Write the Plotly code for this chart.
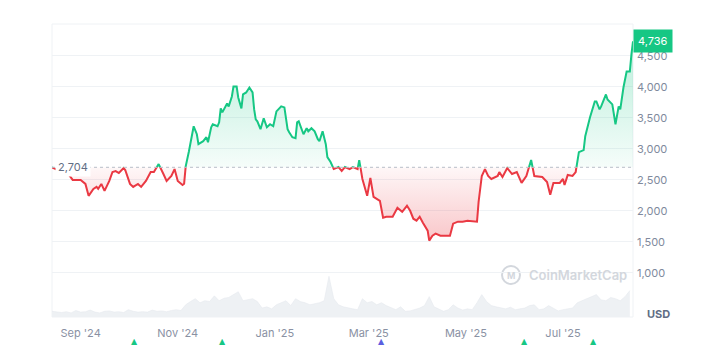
import pandas as pd
import plotly.graph_objects as go

# ---------------- data ----------------
price_dates = [
    # Aug 2024
    "2024-08-14", "2024-08-19", "2024-08-23", "2024-08-27",
    # Sep
    "2024-09-01", "2024-09-04", "2024-09-06", "2024-09-09", "2024-09-11", "2024-09-12", "2024-09-14",
    "2024-09-16", "2024-09-19", "2024-09-21", "2024-09-23", "2024-09-25", "2024-09-28", "2024-09-29",
    # Oct
    "2024-10-02", "2024-10-04", "2024-10-07", "2024-10-09", "2024-10-12", "2024-10-15", "2024-10-17",
    "2024-10-20", "2024-10-23", "2024-10-25", "2024-10-28", "2024-10-30",
    # Nov
    "2024-11-01", "2024-11-04", "2024-11-05", "2024-11-06", "2024-11-08", "2024-11-09", "2024-11-11",
    "2024-11-13", "2024-11-14", "2024-11-17", "2024-11-19", "2024-11-20", "2024-11-22", "2024-11-23",
    "2024-11-26", "2024-11-27", "2024-11-28", "2024-11-29",
    # Dec
    "2024-12-01", "2024-12-02", "2024-12-03", "2024-12-05", "2024-12-06", "2024-12-08", "2024-12-09",
    "2024-12-11", "2024-12-12", "2024-12-14", "2024-12-16", "2024-12-18", "2024-12-19", "2024-12-20",
    "2024-12-21", "2024-12-23", "2024-12-25", "2024-12-27", "2024-12-29", "2024-12-31",
    # Jan 2025
    "2025-01-02", "2025-01-05", "2025-01-07", "2025-01-09", "2025-01-10", "2025-01-12", "2025-01-14",
    "2025-01-15", "2025-01-16", "2025-01-18", "2025-01-19", "2025-01-21", "2025-01-22", "2025-01-24",
    "2025-01-26", "2025-01-28", "2025-01-29", "2025-01-31",
    # Feb
    "2025-02-02", "2025-02-03", "2025-02-05", "2025-02-07", "2025-02-10", "2025-02-12", "2025-02-14",
    "2025-02-17", "2025-02-19", "2025-02-22", "2025-02-23", "2025-02-25", "2025-02-27", "2025-02-28",
    # Mar
    "2025-03-02", "2025-03-04", "2025-03-06", "2025-03-08", "2025-03-10", "2025-03-12", "2025-03-16",
    "2025-03-19", "2025-03-22", "2025-03-25", "2025-03-27", "2025-03-29", "2025-03-31",
    # Apr
    "2025-04-02", "2025-04-04", "2025-04-07", "2025-04-08", "2025-04-10", "2025-04-12", "2025-04-15",
    "2025-04-18", "2025-04-21", "2025-04-23", "2025-04-26", "2025-04-29",
    # May
    "2025-05-02", "2025-05-08", "2025-05-09", "2025-05-11", "2025-05-13", "2025-05-15", "2025-05-17",
    "2025-05-21", "2025-05-22", "2025-05-24", "2025-05-27", "2025-05-30",
    # Jun
    "2025-06-02", "2025-06-05", "2025-06-08", "2025-06-11", "2025-06-13", "2025-06-18", "2025-06-21",
    "2025-06-23", "2025-06-25", "2025-06-29",
    # Jul
    "2025-07-01", "2025-07-02", "2025-07-04", "2025-07-07", "2025-07-09", "2025-07-10", "2025-07-11",
    "2025-07-14", "2025-07-15", "2025-07-18", "2025-07-21", "2025-07-22", "2025-07-24", "2025-07-25",
    "2025-07-28", "2025-07-29",
    # Aug
    "2025-08-01", "2025-08-03", "2025-08-05", "2025-08-06", "2025-08-08", "2025-08-10", "2025-08-12",
    "2025-08-13", "2025-08-14",
]

price_usd = [
    2704, 2644, 2640, 2500,
    2500, 2436, 2244, 2356, 2388, 2356, 2436, 2324, 2484, 2628, 2644, 2612, 2692, 2660,
    2436, 2388, 2436, 2388, 2484, 2628, 2628, 2756, 2596, 2484, 2564, 2676,
    2484, 2420, 2440, 2720, 2960, 3077, 3366, 3237, 3077, 3125, 3189, 3109, 3350, 3398,
    3366, 3430, 3654, 3590,
    3686, 3734, 3686, 3847, 4007, 4007, 3830, 3654, 3879, 3911, 3991, 3911, 3638, 3478,
    3446, 3318, 3494, 3350, 3398, 3366,
    3606, 3686, 3670, 3318, 3269, 3189, 3173, 3430, 3446, 3318, 3237, 3334, 3285, 3334,
    3285, 3157, 3125, 3285,
    3077, 2869, 2789, 2676, 2708, 2644, 2708, 2676, 2708, 2676, 2821, 2516, 2324, 2244,
    2532, 2228, 2195, 2163, 1891, 1907, 1907, 2051, 1987, 2083, 2003, 1875, 1843,
    1907, 1811, 1682, 1522, 1602, 1634, 1602, 1602, 1602, 1795, 1827, 1827,
    1843, 1827, 2147, 2564, 2676, 2564, 2516, 2564, 2628, 2548, 2692, 2596,
    2628, 2452, 2564, 2821, 2564, 2548, 2468, 2260, 2452, 2452,
    2516, 2420, 2580, 2564, 2628, 2805, 2949, 2981, 3205, 3510, 3766, 3766, 3638, 3686,
    3879, 3798,
    3718, 3398, 3686, 3638, 3991, 4247, 4247, 4520, 4736,
]

baseline_price = 2704
last_price = price_usd[-1]

# daily volume (billions USD), one reading every 3 days from 2024-08-14
volume_bn = [
    14, 12, 11, 13, 10, 16, 12, 13, 17, 12,
    10, 14, 15, 12, 13, 11, 18, 14, 12, 13,
    12, 17, 14, 15, 13, 16, 18, 16, 30, 38,
    45, 35, 40, 38, 52, 40, 46, 48, 55, 62,
    40, 42, 45, 38, 22, 25, 20, 30, 35, 40,
    28, 45, 38, 35, 30, 32, 35, 40, 100, 45,
    30, 25, 22, 20, 18, 45, 35, 38, 30, 35,
    28, 22, 18, 25, 14, 15, 18, 22, 28, 50,
    25, 20, 14, 18, 30, 22, 17, 20, 18, 35,
    55, 38, 28, 25, 22, 20, 24, 18, 20, 22,
    28, 30, 18, 20, 28, 22, 15, 18, 20, 22,
    35, 40, 45, 50, 55, 42, 40, 48, 45, 40,
    50, 65,
]
volume_dates = pd.date_range("2024-08-14", periods=len(volume_bn), freq="3D")

event_dates = ["2024-10-05", "2024-11-29", "2025-03-09", "2025-06-07", "2025-07-20"]
event_colors = ["#16c784", "#16c784", "#5b5fe0", "#16c784", "#16c784"]

y_ticks = [1000, 1500, 2000, 2500, 3000, 3500, 4000, 4500]

# ---------------- style ----------------
GREEN = "#16c784"
RED = "#ea3943"
GRID = "#eff2f5"
TICK = "#808a9d"
Y_LO, Y_HI = 290, 5015
EVENT_Y_PAPER = -0.083
FONT = "Inter"

f = (baseline_price - Y_LO) / (Y_HI - Y_LO)

fig = go.Figure()

# volume (base subplot, overlaid axis)
fig.add_trace(go.Scatter(
    x=volume_dates, y=volume_bn, yaxis="y4", mode="lines",
    line=dict(color="#e6eaee", width=0.6), fill="tozeroy", fillcolor="#eef1f4",
    hoverinfo="skip", showlegend=False,
))

# upper (green) part
fig.add_trace(go.Scatter(
    x=price_dates, y=price_usd, yaxis="y2", mode="lines",
    line=dict(color=GREEN, width=2), fill="tozeroy",
    fillgradient=dict(type="vertical", start=baseline_price, stop=4100,
                      colorscale=[[0, "rgba(22,199,132,0.04)"], [1, "rgba(22,199,132,0.22)"]]),
    hoverinfo="skip", showlegend=False,
))

# lower (red) part
fig.add_trace(go.Scatter(
    x=[price_dates[0], price_dates[-1]], y=[baseline_price, baseline_price], yaxis="y3",
    mode="lines", line=dict(width=0, color="rgba(0,0,0,0)"), hoverinfo="skip", showlegend=False,
))
fig.add_trace(go.Scatter(
    x=price_dates, y=price_usd, yaxis="y3", mode="lines",
    line=dict(color=RED, width=2), fill="tonexty",
    fillgradient=dict(type="vertical", start=1550, stop=baseline_price,
                      colorscale=[[0, "rgba(234,57,67,0.28)"], [1, "rgba(234,57,67,0.04)"]]),
    hoverinfo="skip", showlegend=False,
))

fig.update_layout(
    width=720, height=346,
    margin=dict(l=52, r=87, t=24, b=29, autoexpand=False),
    paper_bgcolor="white", plot_bgcolor="rgba(0,0,0,0)",
    font=dict(family=FONT, size=11, color=TICK),
    xaxis=dict(type="date", range=["2024-08-14", "2025-08-14"],
               tick0="2024-09-01", dtick="M2", tickformat="%b '%y",
               showgrid=False, zeroline=False, showline=False, ticks="",
               automargin=False, ticklabelstandoff=8,
               tickfont=dict(size=11, color="#8a91a3")),
    yaxis=dict(domain=[0, 1], range=[Y_LO, Y_HI], side="right", tickvals=y_ticks,
               tickformat=",", showgrid=True, gridcolor=GRID, gridwidth=1,
               zeroline=False, showline=False, ticks="", ticklabelstandoff=3,
               automargin=False, tickfont=dict(size=11, color=TICK)),
    yaxis2=dict(domain=[f, 1], range=[baseline_price, Y_HI], anchor="x", visible=False,
                showgrid=False, automargin=False),
    yaxis3=dict(domain=[0, f], range=[Y_LO, baseline_price], anchor="x", visible=False,
                showgrid=False, automargin=False),
    yaxis4=dict(overlaying="y", range=[0, 720], visible=False, showgrid=False,
                automargin=False),
    showlegend=False,
)

# plot frame
fig.add_shape(type="rect", xref="paper", yref="paper", x0=0, x1=1, y0=0, y1=1,
              line=dict(color=GRID, width=1), layer="below")
# baseline dotted
fig.add_shape(type="line", xref="paper", yref="y", x0=0, x1=1,
              y0=baseline_price, y1=baseline_price,
              line=dict(color="#b8bec8", width=1, dash="dot"), layer="above")

# event markers below the axis
for d, c in zip(event_dates, event_colors):
    fig.add_annotation(xref="x", yref="paper", x=d, y=EVENT_Y_PAPER, text="▲",
                       showarrow=False, xanchor="center", yanchor="middle",
                       font=dict(size=8, color=c, family="DejaVu Sans"))

# watermark
fig.add_shape(type="circle", xref="paper", yref="paper",
              x0=(502 - 52) / 581, x1=(520 - 52) / 581, y0=(317 - 284) / 293, y1=(317 - 266) / 293,
              line=dict(color="#d3d7dd", width=2), layer="below")
fig.add_annotation(xref="paper", yref="paper", x=(511 - 52) / 581, y=(317 - 275) / 293,
                   text="<b>M</b>", showarrow=False, font=dict(size=9, color="#d3d7dd"),
                   xanchor="center", yanchor="middle")
fig.add_annotation(xref="paper", yref="paper", x=(527 - 52) / 581, y=(317 - 275) / 293,
                   text="CoinMarketCap", showarrow=False,
                   font=dict(size=13, color="#d3d7dd", family=FONT, weight=600),
                   xanchor="left", yanchor="middle")

# baseline label
fig.add_annotation(xref="paper", yref="y", x=3 / 581, y=baseline_price,
                   text=f"{baseline_price:,}", showarrow=False, xanchor="left", yanchor="middle",
                   bgcolor="white", borderpad=2, font=dict(size=11, color="#616e85"))
# last price label
fig.add_annotation(xref="paper", yref="y", x=1, y=last_price,
                   text=f"{last_price:,}", showarrow=False, xanchor="left", yanchor="middle",
                   bgcolor=GREEN, borderpad=4, font=dict(size=11, color="white"))
# currency label
fig.add_annotation(xref="paper", yref="paper", x=1 + 12 / 581, y=(317 - 314) / 293,
                   text="<b>USD</b>", showarrow=False, xanchor="left", yanchor="middle",
                   font=dict(size=11, color="#616e85"))

fig.write_html("out.html")
